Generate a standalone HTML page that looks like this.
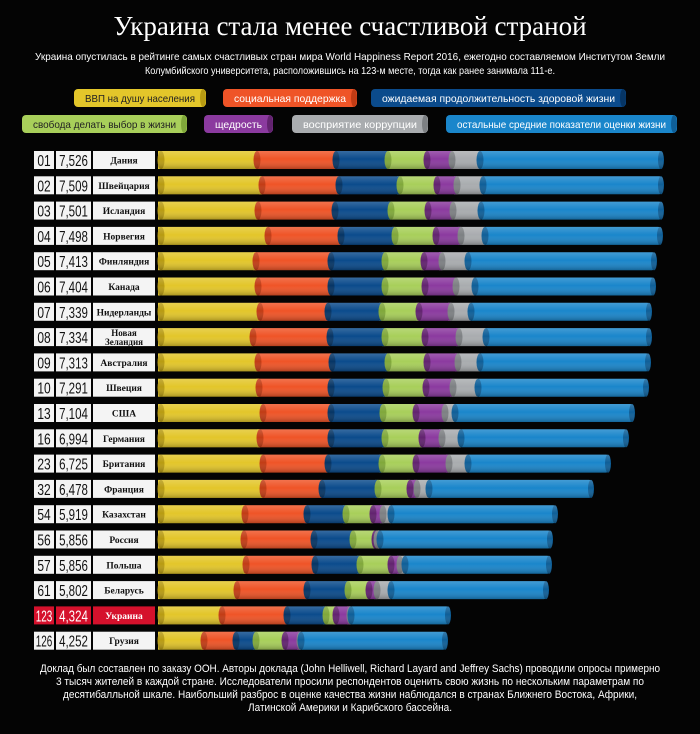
<!DOCTYPE html>
<html><head><meta charset="utf-8">
<style>
body{margin:0;background:#040404;width:700px;height:734px;overflow:hidden;font-family:"Liberation Sans",sans-serif;color:#fff}
svg{display:block}
</style></head><body>
<svg id="s" width="700" height="734" xmlns="http://www.w3.org/2000/svg">
<defs>
<linearGradient id="sh" x1="0" y1="0" x2="0" y2="1">
<stop offset="0" stop-color="#fff" stop-opacity="0.18"/>
<stop offset="0.45" stop-color="#fff" stop-opacity="0"/>
<stop offset="1" stop-color="#000" stop-opacity="0.25"/>
</linearGradient>
</defs>
<text x="350" y="35" text-anchor="middle" font-family="Liberation Serif, serif" font-size="27" fill="#fff">Украина стала менее счастливой страной</text>
<text x="350" y="60" text-anchor="middle" font-size="10.5" fill="#fff" textLength="630" lengthAdjust="spacingAndGlyphs">Украина опустилась в рейтинге самых счастливых стран мира World Happiness Report 2016, ежегодно составляемом Институтом Земли</text>
<text x="350" y="74" text-anchor="middle" font-size="10.5" fill="#fff" textLength="410" lengthAdjust="spacingAndGlyphs">Колумбийского университета, расположившись на 123-м месте, тогда как ранее занимала 111-е.</text>
<g id="leg"></g>
<g id="rows"></g>
<g font-size="11" fill="#fff" text-anchor="middle">
<text x="350" y="672" textLength="620" lengthAdjust="spacingAndGlyphs">Доклад был составлен по заказу ООН. Авторы доклада (John Helliwell, Richard Layard and Jeffrey Sachs) проводили опросы примерно</text>
<text x="350" y="685" textLength="588" lengthAdjust="spacingAndGlyphs">3 тысяч жителей в каждой стране. Исследователи просили респондентов оценить свою жизнь по нескольким параметрам по</text>
<text x="350" y="698" textLength="574" lengthAdjust="spacingAndGlyphs">десятибалльной шкале. Наибольший разброс в оценке качества жизни наблюдался в странах Ближнего Востока, Африки,</text>
<text x="350" y="711" textLength="204" lengthAdjust="spacingAndGlyphs">Латинской Америки и Карибского бассейна.</text>
</g>
</svg>
<script>
const C=["#e3c62a","#ef5427","#0b4b8c","#a8cf5a","#8b3a9f","#a9acaf","#1a86cb"];
const D=["#b89b12","#c23c15","#063565","#80a83a","#62236f","#7d8083","#0f5f98"];
const NS="http://www.w3.org/2000/svg";
function el(t,a,p,txt){const e=document.createElementNS(NS,t);for(const k in a)e.setAttribute(k,a[k]);if(txt!=null)e.textContent=txt;p.appendChild(e);return e;}
const leg=document.getElementById('leg');
const L=[[74,206,98,0,"ВВП на душу населения","#222"],[223,357,98,1,"социальная поддержка","#fff"],[371,626,98,2,"ожидаемая продолжительность здоровой жизни","#fff"],
[22,187,124,3,"свобода делать выбор в жизни","#222"],[204,273,124,4,"щедрость","#fff"],[292,428,124,5,"восприятие коррупции","#fff"],[446,677,124,6,"остальные средние показатели оценки жизни","#fff"]];
for(const [a,b,y,c,t,tc] of L){
 el('rect',{x:a,y:y-9,width:b-a,height:18,rx:4,fill:C[c]},leg);
 el('ellipse',{cx:b-3,cy:y,rx:3,ry:9,fill:D[c]},leg);
 el('text',{x:(a+b)/2,y:y+4,'text-anchor':'middle','font-size':10.5,fill:tc,textLength:(b-a)-22,lengthAdjust:'spacingAndGlyphs'},leg,t);
}
const R=[
["01","7,526","Дания",[254,333,385,424,449,477,663]],
["02","7,509","Швейцария",[259,336,397,434,454,480,663]],
["03","7,501","Исландия",[255,332,388,425,450,478,663]],
["04","7,498","Норвегия",[265,338,392,433,458,482,662]],
["05","7,413","Финляндия",[253,328,382,421,439,465,656]],
["06","7,404","Канада",[255,328,382,422,453,472,655]],
["07","7,339","Нидерланды",[257,325,379,416,448,468,651]],
["08","7,334","Новая|Зеландия",[250,327,382,422,456,483,651]],
["09","7,313","Австралия",[255,329,385,424,455,477,650]],
["10","7,291","Швеция",[256,328,383,423,450,475,648]],
["13","7,104","США",[260,328,380,413,442,452,634]],
["16","6,994","Германия",[257,328,382,419,439,458,628]],
["23","6,725","Британия",[260,325,379,413,446,465,610]],
["32","6,478","Франция",[260,319,375,407,414,426,593]],
["54","5,919","Казахстан",[242,304,343,370,380,388,557]],
["56","5,856","Россия",[241,311,350,372,374,377,552]],
["57","5,856","Польша",[243,312,357,388,397,402,551]],
["61","5,802","Беларусь",[234,304,345,366,374,388,548]],
["123","4,324","Украина",[219,284,323,333,347,348,450]],
["126","4,252","Грузия",[201,233,253,282,297,298,447]]];
const g=document.getElementById('rows');
R.forEach((r,i)=>{
 const cy=160+i*25.3, y=cy-9, h=18;
 const red=r[0]==="123";
 const bg=red?"#d5112c":"#f4f4f4", fg=red?"#fff":"#111";
 el('rect',{x:34,y:y,width:20,height:h,fill:bg},g);
 el('rect',{x:56,y:y,width:35,height:h,fill:bg},g);
 el('rect',{x:93,y:y,width:62,height:h,fill:bg},g);
 el('text',{x:44,y:cy+6,'text-anchor':'middle','font-size':16,fill:fg,'font-family':'Liberation Sans Narrow, Liberation Sans, sans-serif',transform:`translate(44 0) scale(${r[0].length>2?0.62:0.75} 1) translate(-44 0)`},g,r[0]);
 el('text',{x:73.5,y:cy+6,'text-anchor':'middle','font-size':16,fill:fg,'font-family':'Liberation Sans Narrow, Liberation Sans, sans-serif',transform:`translate(73.5 0) scale(0.72 1) translate(-73.5 0)`},g,r[1]);
 const nm=r[2].split('|');
 if(nm.length>1){
  el('text',{x:124,y:cy-1,'text-anchor':'middle','font-size':9,'font-weight':'bold',fill:fg,'font-family':'Liberation Serif, serif'},g,nm[0]);
  el('text',{x:124,y:cy+8,'text-anchor':'middle','font-size':9,'font-weight':'bold',fill:fg,'font-family':'Liberation Serif, serif'},g,nm[1]);
 } else el('text',{x:124,y:cy+3.5,'text-anchor':'middle','font-size':9.5,'font-weight':'bold',fill:fg,'font-family':'Liberation Serif, serif'},g,nm[0]);
 const b=[158].concat(r[3]);
 for(let k=6;k>=0;k--){
  const x0=b[k],x1=b[k+1]; if(x1-x0<0.5)continue;
  el('rect',{x:x0,y:y,width:x1-x0+(k<6?3:0),height:h,rx:k==6?4:0,fill:C[k]},g);
 }
 for(let k=0;k<7;k++){
  const x0=b[k],x1=b[k+1]; if(x1-x0<0.5)continue;
  el('ellipse',{cx:x0+3,cy:cy,rx:3.5,ry:9,fill:D[k]},g);
 }
 el('ellipse',{cx:b[7]-2,cy:cy,rx:3,ry:9,fill:D[6]},g);
 el('rect',{x:158,y:y,width:b[7]-158,height:h,rx:3,fill:'url(#sh)'},g);
});
</script>
</body></html>
